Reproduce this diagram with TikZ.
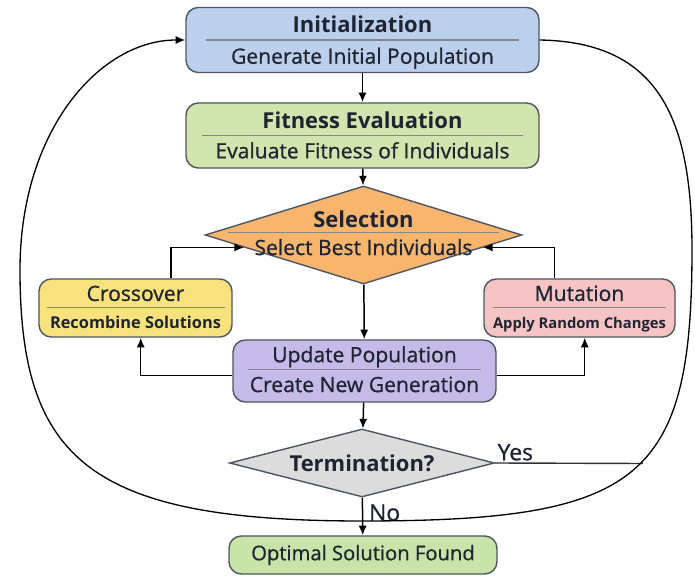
\documentclass[tikz,border=0pt]{standalone}
\usepackage{fontspec}
\setmainfont{Open Sans}
\newfontfamily\medfont{Open Sans}[FakeBold=0.8]
\usetikzlibrary{shapes.geometric,calc,arrows.meta}

\definecolor{initblue}{HTML}{BCD0EE}
\definecolor{fitgreen}{HTML}{D2E5AE}
\definecolor{selorange}{HTML}{F8B56E}
\definecolor{crossyellow}{HTML}{F8E27E}
\definecolor{mutpink}{HTML}{F6C4C4}
\definecolor{updpurple}{HTML}{C6BAE8}
\definecolor{termgray}{HTML}{DCDCDC}
\definecolor{optgreen}{HTML}{C8E4A8}
\definecolor{edgecol}{HTML}{4D5563}
\definecolor{txtcol}{HTML}{1E2431}

\newcommand{\ttlbig}{\fontsize{12.5}{14}\selectfont\bfseries}
\newcommand{\subbig}{\medfont\fontsize{12}{14}\selectfont}
\newcommand{\subsmall}[1]{\bfseries\fontsize{#1}{11}\selectfont}

\tikzset{
  >={Latex[length=5.5pt,width=4.6pt]},
  seplift/.store in=\seplift, seplift=0pt,
  stage/.style={draw=edgecol, line width=0.8pt, rounded corners=7pt, inner sep=0pt},
  choice/.style={diamond, draw=edgecol, line width=0.8pt, inner sep=0pt},
  sepline/.style={path picture={\draw[edgecol!70, line width=0.6pt] ([xshift=#1,yshift=\seplift]path picture bounding box.west) -- ([xshift=-#1,yshift=\seplift]path picture bounding box.east);}},
  ttl/.style={text=txtcol, font=\ttlbig, anchor=base, inner sep=0pt},
  sub/.style={text=txtcol, font=\subbig, anchor=base, inner sep=0pt},
  flow/.style={->, line width=0.85pt},
}

\begin{document}
\begin{tikzpicture}
    \useasboundingbox (0,0) rectangle (13.9,-11.52);

    % boxes
    \node[stage, fill=initblue, minimum width=7.06cm, minimum height=1.3cm, sepline=0.4cm] (init) at (7.25,-0.80) {};
    \node[stage, fill=fitgreen, minimum width=7.06cm, minimum height=1.3cm, sepline=0.32cm] (fit) at (7.25,-2.71) {};
    \node[choice, fill=selorange, minimum width=6.34cm, minimum height=1.96cm, seplift=1.5pt, sepline=0.45cm] (sel) at (7.27,-4.70) {};
    \node[stage, fill=crossyellow, minimum width=3.86cm, minimum height=1.16cm, seplift=0.5pt, sepline=0.15cm] (cross) at (2.71,-6.16) {};
    \node[stage, fill=mutpink, minimum width=3.82cm, minimum height=1.16cm, seplift=0.5pt, sepline=0.18cm] (mut) at (11.59,-6.16) {};
    \node[stage, fill=updpurple, minimum width=5.26cm, minimum height=1.24cm, seplift=1pt, sepline=0.3cm] (upd) at (7.29,-7.42) {};
    \node[choice, fill=termgray, minimum width=5.3cm, minimum height=1.36cm] (term) at (7.24,-9.26) {};
    \node[stage, fill=optgreen, minimum width=5.36cm, minimum height=0.76cm] (opt) at (7.26,-11.10) {};

    % texts
    \node[ttl] (initttl) at ([yshift=4pt]init.center) {Initialization};
    \node[sub] (initsub) at ([yshift=-13.5pt]init.center) {Generate Initial Population};
    \node[ttl] (fitttl) at ([yshift=4pt]fit.center) {Fitness Evaluation};
    \node[sub] (fitsub) at ([yshift=-13pt]fit.center) {Evaluate Fitness of Individuals};
    \node[ttl] (selttl) at ([yshift=4.5pt]sel.center) {Selection};
    \node[sub] (selsub) at ([yshift=-11.4pt]sel.center) {Select Best Individuals};
    \node[sub] (crossttl) at ([yshift=4pt]cross.center) {Crossover};
    \node[sub, font=\subsmall{9.3}] (crosssub) at ([yshift=-11.5pt]cross.center) {Recombine Solutions};
    \node[sub] (mutttl) at ([yshift=4pt]mut.center) {Mutation};
    \node[sub, font=\subsmall{8.4}] (mutsub) at ([yshift=-11.5pt]mut.center) {Apply Random Changes};
    \node[sub] (updttl) at ([yshift=5pt]upd.center) {Update Population};
    \node[sub] (updsub) at ([yshift=-12pt]upd.center) {Create New Generation};
    \node[ttl, anchor=center] (termtxt) at (term) {Termination?};
    \node[sub, anchor=center, font=\medfont\fontsize{11.5}{13}\selectfont] (opttxt) at (opt) {Optimal Solution Found};

    \coordinate (selL) at ($(sel.west)!0.25!(sel.south)$);
    \coordinate (selR) at ($(sel.east)!0.25!(sel.south)$);
    \coordinate (yesend) at (12.86,-9.27);
    \coordinate (loopR) at (13.84,-5.0);
    \coordinate (loopB) at (7.24,-10.42);
    \coordinate (loopL) at (0.40,-5.4);

    % arrows
    \draw[flow] (init) -- (fit);
    \draw[flow] (fit) -- (sel);
    \draw[flow] (sel) -- (upd);
    \draw[flow] (upd) -- (term);
    \draw[flow] (term) -- node[right, text=txtcol, pos=0.4, font=\medfont\fontsize{13}{14}\selectfont] {No} (opt);

    \draw[flow] (cross.40) |- (selL);
    \draw[flow] (mut.130) |- (selR);
    \draw[flow] (upd.182) -| (cross.-80);
    \draw[flow] (upd.-2) -| (mut.-80);

    \draw[black!80, line width=0.8pt] (term.east) -- node[pos=0, above right, inner sep=1pt, text=txtcol, font=\medfont\fontsize{13}{14}\selectfont] {Yes} (yesend);

    % loop back
    \draw[flow, line width=0.75pt] (init.east) .. controls (13.2,-0.84) and (13.84,-2.4) .. (loopR)
        .. controls (13.84,-9.6) and (12.8,-10.42) .. (loopB)
        .. controls (1.8,-10.42) and (0.4,-9.2) .. (loopL)
        .. controls (0.4,-2.6) and (2.0,-0.8) .. (init.west);
\end{tikzpicture}
\end{document}
